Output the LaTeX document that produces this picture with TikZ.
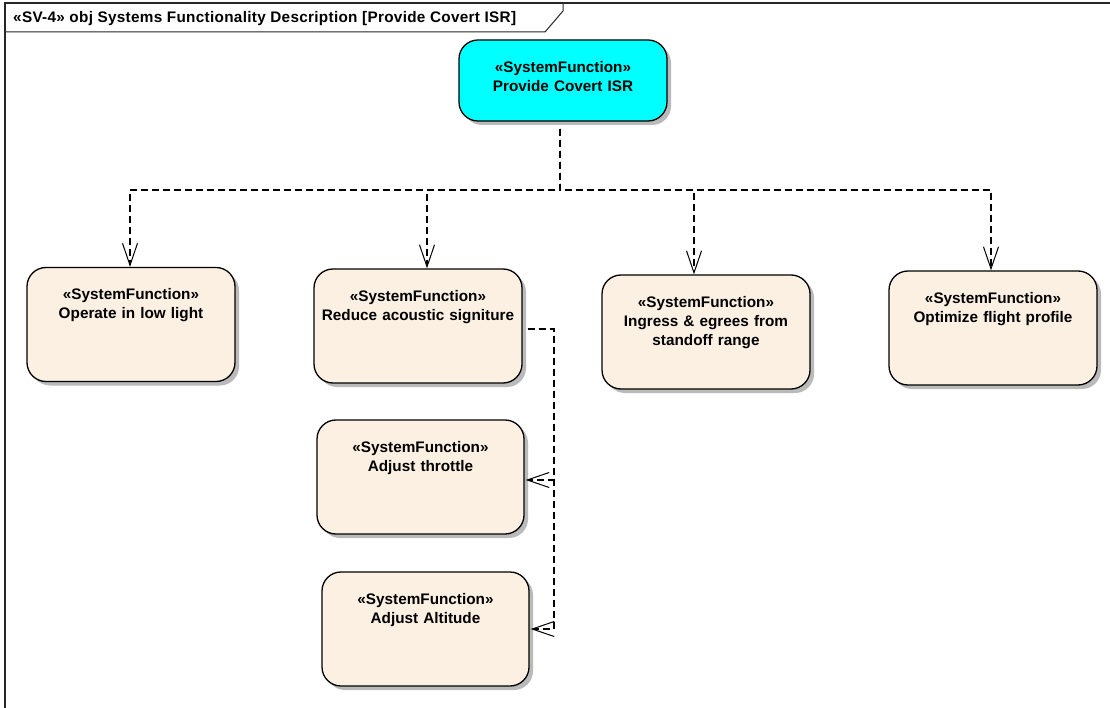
\documentclass[tikz,border=0pt]{standalone}
\usepackage{fontspec}
\setmainfont{Liberation Sans}
\usetikzlibrary{arrows.meta,shadows,calc}
\definecolor{beige}{RGB}{251,240,226}
\definecolor{cyanfill}{RGB}{0,255,255}
\begin{document}
\begin{tikzpicture}[x=1pt,y=-1pt,
  fbox/.style={draw=black, line width=1.3pt, rounded corners=19pt, fill=beige,
    minimum width=208pt, minimum height=114pt, inner sep=0pt,
    drop shadow={shadow xshift=4pt, shadow yshift=-4pt, fill=black!45, opacity=0.6}},
  topbox/.style={fbox, fill=cyanfill, minimum height=81pt},
  lbl/.style={font=\fontsize{15.3}{19}\selectfont\bfseries, text width=206pt, align=center, inner sep=0pt, anchor=base},
  dep/.style={draw=black, line width=1.1pt, dash pattern=on 7pt off 4pt,
    -{Straight Barb[length=22pt,width=15pt,line width=1pt]}},
  frameline/.style={draw=black!85, line width=1.3pt}
]
\useasboundingbox[fill=white] (0,0) rectangle (1110,708);
% frame
\draw[frameline] (5,708) -- (5,3) -- (1110,3);
\draw[frameline, line width=1pt] (5,32) -- (545,32) -- (563,11) -- (563,3);
\node[font=\fontsize{15.3}{17}\selectfont\bfseries\addfontfeature{LetterSpace=2}, anchor=base west, inner sep=0pt] (title) at (13,23) {«SV-4» obj Systems Functionality Description [Provide Covert ISR]};

% nodes
\node[topbox] (top) at (563,80.5) {};
\node[lbl] (topt) at ([yshift=-33pt]top.north) {«SystemFunction»\\Provide Covert ISR};

\node[fbox] (a) at (131,324.5) {};
\node[lbl] (at) at ([yshift=-33pt]a.north) {«SystemFunction»\\Operate in low light};

\node[fbox] (b) at (418,326) {};
\node[lbl] (bt) at ([yshift=-33pt]b.north) {«SystemFunction»\\Reduce acoustic signiture};

\node[fbox] (c) at (706,332) {};
\node[lbl] (ct) at ([yshift=-33pt]c.north) {«SystemFunction»\\Ingress \& egrees from\\standoff range};

\node[fbox] (d) at (993,328) {};
\node[lbl] (dt) at ([yshift=-33pt]d.north) {«SystemFunction»\\Optimize flight profile};

\node[fbox, minimum width=207pt] (e) at (420.5,477) {};
\node[lbl] (et) at ([yshift=-33pt]e.north) {«SystemFunction»\\Adjust throttle};

\node[fbox, minimum width=207pt] (f) at (425.5,629) {};
\node[lbl] (ft) at ([yshift=-33pt]f.north) {«SystemFunction»\\Adjust Altitude};

% connectors
\coordinate (hub) at (560,190);
\coordinate (bus) at (554,329);
\draw[dep] ([xshift=-3pt,yshift=-7pt]top.south) -- (hub) -| ([xshift=-1pt]a.north);
\draw[dep] ([xshift=-3pt,yshift=-7pt]top.south) -- (hub) -| ([xshift=9pt]b.north);
\draw[dep] ([xshift=-3pt,yshift=-7pt]top.south) -- (hub) -| ([xshift=-12pt]c.north);
\draw[dep] ([xshift=-3pt,yshift=-7pt]top.south) -- (hub) -| ([xshift=-2pt]d.north);
\draw[dep, shorten <=5pt] ([yshift=-3pt]b.east) -- (bus) |- ([xshift=1pt,yshift=-3pt]e.east);
\draw[dep, shorten <=5pt] ([yshift=-3pt]b.east) -- (bus) |- ([xshift=1pt]f.east);
\end{tikzpicture}
\end{document}
